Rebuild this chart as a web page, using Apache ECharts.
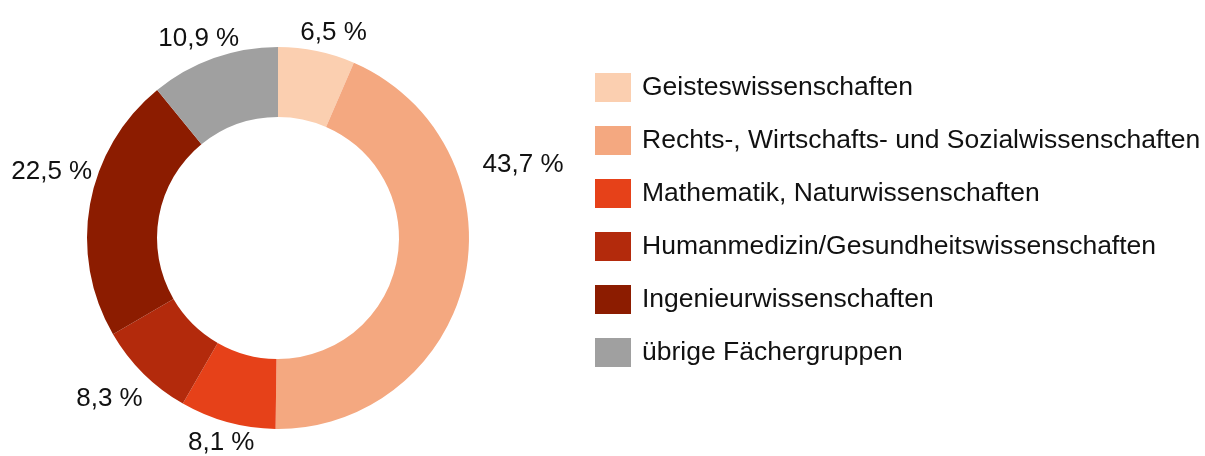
<!DOCTYPE html>
<html>
<head>
<meta charset="utf-8">
<script src="https://cdn.jsdelivr.net/npm/echarts@6/dist/echarts.min.js"></script>
<style>
html, body { margin: 0; padding: 0; background: #fff; }
#main { width: 1205px; height: 456px; }
</style>
</head>
<body>
<div id="main"></div>
<script>
// Anteile der Fächergruppen in Prozent
var categories = [
    'Geisteswissenschaften',
    'Rechts-, Wirtschafts- und Sozialwissenschaften',
    'Mathematik, Naturwissenschaften',
    'Humanmedizin/Gesundheitswissenschaften',
    'Ingenieurwissenschaften',
    'übrige Fächergruppen'
];
var shares = [6.5, 43.7, 8.1, 8.3, 22.5, 10.9];
var colors = ['#fbcfb0', '#f4a880', '#e64119', '#b32a0c', '#8c1c00', '#a0a0a0'];

var chartDom = document.getElementById('main');
var myChart = echarts.init(chartDom);

var data = categories.map(function (name, i) {
    return { name: name, value: shares[i], itemStyle: { color: colors[i] } };
});

// kleine Verschiebungen der Beschriftungen, wie im Original (Excel "bestFit")
var labelNudge = [[-23, -10], [5, -115], [34, 13], [10, 20], [15, -31], [33, -12]];

var option = {
    animation: false,
    textStyle: { fontFamily: 'Liberation Sans, Arial, sans-serif' },
    legend: {
        orient: 'vertical',
        left: 595,
        top: 73,
        padding: 0,
        itemWidth: 36,
        itemHeight: 29,
        itemGap: 24,
        icon: 'rect',
        selectedMode: false,
        textStyle: {
            fontSize: 26.5,
            color: '#111',
            padding: [0, 0, 0, 6]
        },
        data: categories
    },
    series: [
        {
            name: 'Fächergruppen',
            type: 'pie',
            center: [278, 238],
            radius: [121, 191],
            startAngle: 90,
            clockwise: true,
            avoidLabelOverlap: false,
            emphasis: { disabled: true },
            itemStyle: { borderWidth: 0 },
            label: {
                show: true,
                position: 'outside',
                fontSize: 26,
                color: '#111',
                formatter: function (p) {
                    return p.value.toFixed(1).replace('.', ',') + ' %';
                }
            },
            labelLine: { show: false, length: 8, length2: 0 },
            labelLayout: function (params) {
                var n = labelNudge[params.dataIndex];
                return { dx: n[0], dy: n[1] };
            },
            data: data
        }
    ]
};
option && myChart.setOption(option);
</script>
</body>
</html>
